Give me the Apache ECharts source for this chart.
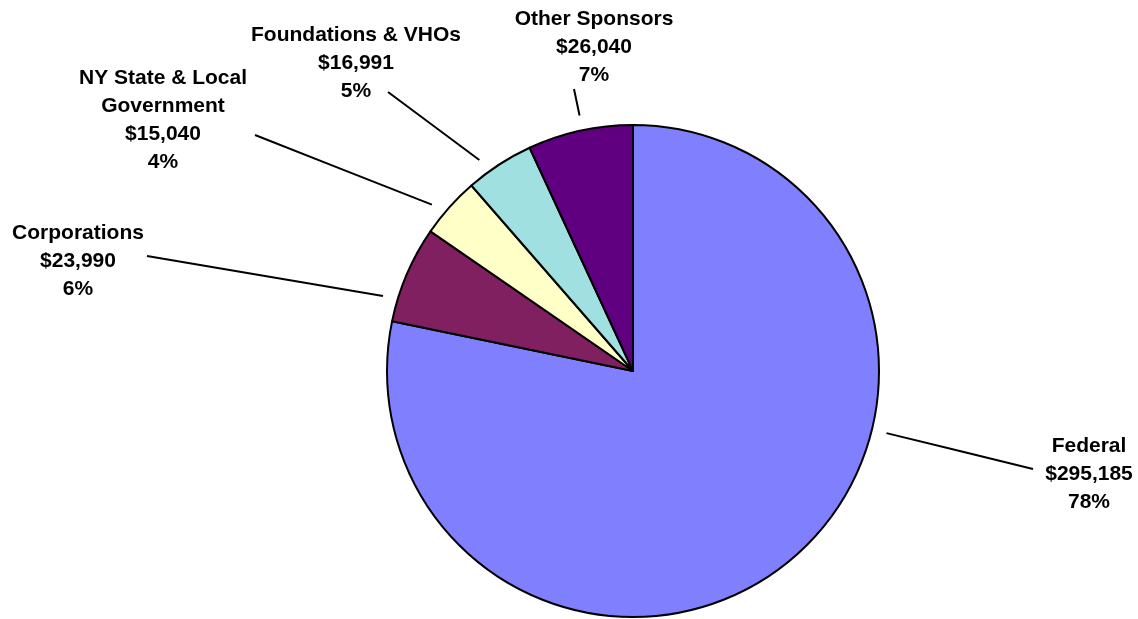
<!DOCTYPE html>
<html>
<head>
<meta charset="utf-8">
<script src="https://cdn.jsdelivr.net/npm/echarts@6/dist/echarts.min.js"></script>
<style>
html,body{margin:0;padding:0;background:#fff;}
#chart{width:1138px;height:619px;}
</style>
</head>
<body>
<div id="chart"></div>
<script>
// ---- data ----
const categories = ['Federal', 'Corporations', 'NY State & Local\nGovernment', 'Foundations & VHOs', 'Other Sponsors'];
const values = [295185, 23990, 15040, 16991, 26040];
const colors = ['#8080FF', '#802060', '#FFFFC8', '#A0E0E0', '#600080'];

// ---- layout (label placement, not data) ----
const CENTER = [633, 371];
const RADIUS = 246;
const labelCenters = [[1089, 474], [78, 261], [163, 120], [356, 63], [594, 47]];
const lineOuterEnds = [[1033, 469], [147, 256], [255, 135], [388, 92], [574, 89]];

const total = values.reduce((a, b) => a + b, 0);
const spans = values.map(v => v / total * 360);
const starts = [];
let acc = 0;
spans.forEach(s => { starts.push(acc); acc += s; });

function attachPoint(i) {
  const e = lineOuterEnds[i];
  const dx = e[0] - CENTER[0], dy = e[1] - CENTER[1];
  let ang = Math.atan2(dx, -dy) * 180 / Math.PI; // clockwise from top
  if (ang < 0) ang += 360;
  const margin = Math.min(5, spans[i] / 2);
  const lo = starts[i] + margin, hi = starts[i] + spans[i] - margin;
  ang = Math.max(lo, Math.min(hi, ang));
  const r = RADIUS + 15;
  const rad = ang * Math.PI / 180;
  return [CENTER[0] + r * Math.sin(rad), CENTER[1] - r * Math.cos(rad)];
}

const chart = echarts.init(document.getElementById('chart'), null, {renderer: 'canvas'});
chart.setOption({
  backgroundColor: '#ffffff',
  animation: false,
  series: [{
    type: 'pie',
    center: CENTER,
    radius: [0, RADIUS],
    startAngle: 90,
    clockwise: true,
    avoidLabelOverlap: false,
    data: categories.map((c, i) => ({
      name: c,
      value: values[i],
      itemStyle: {color: colors[i]}
    })),
    itemStyle: {borderColor: '#000000', borderWidth: 2},
    emphasis: {disabled: true},
    label: {
      show: true,
      position: 'outside',
      color: '#000000',
      fontFamily: 'Liberation Sans, Arial, sans-serif',
      fontWeight: 'bold',
      fontSize: 21,
      lineHeight: 28,
      align: 'center',
      formatter: p => p.name + '\n$' + p.value.toLocaleString('en-US') + '\n' + Math.round(p.value / total * 100) + '%'
    },
    labelLine: {show: true, lineStyle: {color: '#000000', width: 2}},
    labelLayout: function (params) {
      const i = params.dataIndex;
      const inner = attachPoint(i);
      const outer = lineOuterEnds[i];
      return {
        x: labelCenters[i][0],
        y: labelCenters[i][1],
        align: 'center',
        verticalAlign: 'middle',
        labelLinePoints: [inner, [(inner[0] + outer[0]) / 2, (inner[1] + outer[1]) / 2], outer]
      };
    }
  }]
});
</script>
</body>
</html>
